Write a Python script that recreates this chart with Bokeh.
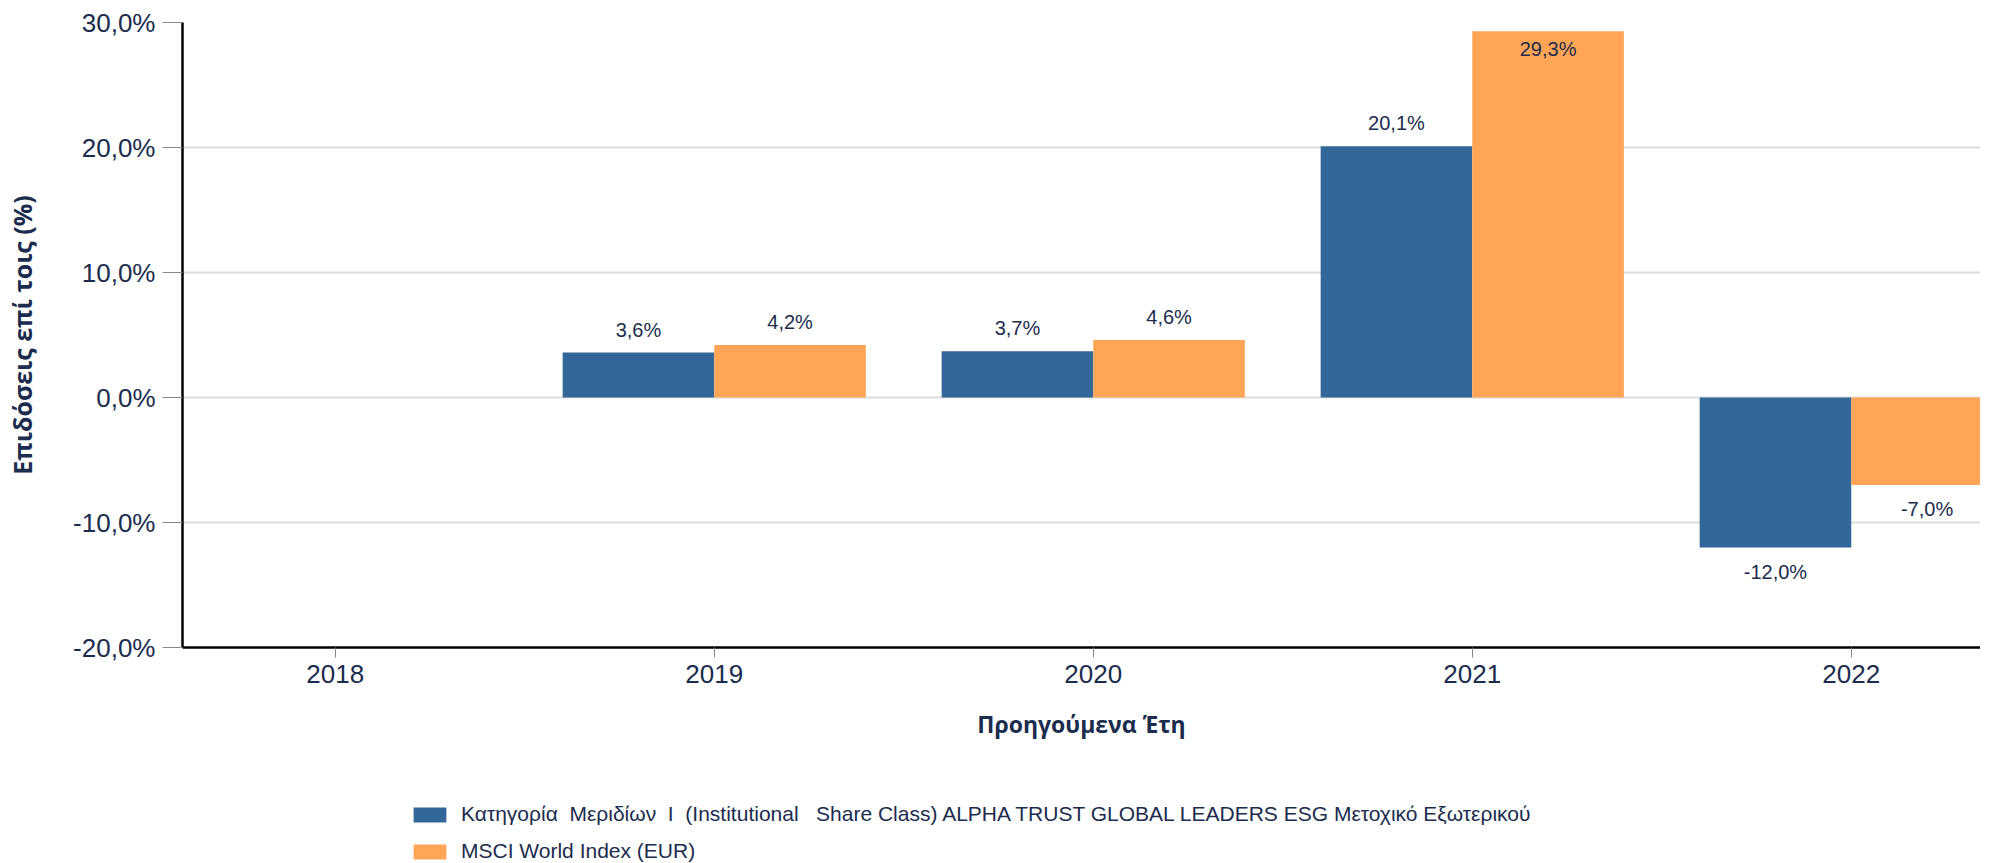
from bokeh.plotting import figure
from bokeh.layouts import column
from bokeh.models import FixedTicker, Legend, LegendItem, ColumnDataSource, Range1d
from bokeh.core.properties import value
from bokeh.embed import file_html
from bokeh.resources import INLINE

# ---- data ----
years = ["2018", "2019", "2020", "2021", "2022"]
fund_name = "Κατηγορία  Μεριδίων  I  (Institutional   Share Class) ALPHA TRUST GLOBAL LEADERS ESG Μετοχικό Εξωτερικού"
index_name = "MSCI World Index (EUR)"
fund_returns = [None, 3.6, 3.7, 20.1, -12.0]
index_returns = [None, 4.2, 4.6, 29.3, -7.0]
y_ticks = [-20, -10, 0, 10, 20, 30]
x_title = "Προηγούμενα Έτη"
y_title = "Επιδόσεις επί τοις (%)"

# ---- style ----
BLUE = "#336699"
ORANGE = "#FFA555"
TEXT = "#1b2c4e"
GRID = "#dcdcdc"
Y_MIN, Y_MAX = y_ticks[0], y_ticks[-1]
W = 1980


def fmt(v):
    return f"{v:.1f}".replace(".", ",") + "%"


def series_source(vals, shift):
    xs, tops, labels, offs = [], [], [], []
    for i, v in enumerate(vals):
        if v is None:
            continue
        xs.append(i + shift)
        tops.append(v)
        labels.append(fmt(v))
        if v < 0:
            offs.append(24)
        elif v > Y_MAX - 2.5:
            offs.append(18)
        else:
            offs.append(-23)
    return ColumnDataSource(dict(x=xs, top=tops, label=labels, off=offs))


p = figure(
    width=W, height=785,
    output_backend="svg", toolbar_location=None,
    x_range=Range1d(-0.403, 4.341), y_range=Range1d(Y_MIN, Y_MAX),
    min_border_left=182, min_border_right=0, min_border_top=22, min_border_bottom=138,
)
p.outline_line_color = None
p.background_fill_color = "white"

fund_src = series_source(fund_returns, -0.2)
index_src = series_source(index_returns, 0.2)

r1 = p.vbar(x="x", top="top", bottom=0, width=0.4, source=fund_src,
            fill_color=BLUE, line_color=None)
r2 = p.vbar(x="x", top="top", bottom=0, width=0.4, source=index_src,
            fill_color=ORANGE, line_color=None)

for src in (fund_src, index_src):
    p.text(x="x", y="top", text="label", source=src, y_offset="off",
           text_align="center", text_baseline="middle",
           text_font=value("Liberation Sans"), text_font_size="20px",
           text_color=TEXT)

# axes
p.xaxis.ticker = FixedTicker(ticks=list(range(len(years))))
p.xaxis.major_label_overrides = {i: y for i, y in enumerate(years)}
p.yaxis.ticker = FixedTicker(ticks=y_ticks)
p.yaxis.major_label_overrides = {t: fmt(t) for t in y_ticks}

for ax in (p.xaxis[0], p.yaxis[0]):
    ax.axis_line_color = "black"
    ax.axis_line_width = 2.5
    ax.major_tick_line_color = "#888888"
    ax.major_tick_line_width = 1
    ax.major_tick_in = 0
    ax.minor_tick_line_color = None
    ax.major_label_text_font = "Liberation Sans"
    ax.major_label_text_font_size = "26px"
    ax.major_label_text_color = TEXT
    ax.axis_label_text_font = "Open Sans"
    ax.axis_label_text_font_style = "bold"
    ax.axis_label_text_color = TEXT

p.xaxis.major_tick_out = 10
p.xaxis.major_label_standoff = 7
p.xaxis.axis_label = x_title
p.xaxis.axis_label_standoff = 22
p.xaxis.axis_label_text_font_size = "23px"

p.yaxis.major_tick_out = 20
p.yaxis.major_label_standoff = 7
p.yaxis.axis_label = y_title
p.yaxis.axis_label_standoff = 31
p.yaxis.axis_label_text_font_size = "25px"

p.xgrid.grid_line_color = None
p.ygrid.grid_line_color = GRID
p.ygrid.grid_line_width = 2

# legend strip below the chart (zero-area swatch renderers outside the visible range)
lg = figure(width=W, height=78, output_backend="svg", toolbar_location=None,
            x_range=Range1d(0, 1), y_range=Range1d(0, 1),
            x_axis_type=None, y_axis_type=None,
            min_border=0, outline_line_color=None,
            background_fill_color=None, border_fill_color=None)
lg.grid.visible = False
e1 = lg.vbar(x=[5], top=[5], bottom=5, width=0.1, fill_color=BLUE, line_color=None)
e2 = lg.vbar(x=[5], top=[5], bottom=5, width=0.1, fill_color=ORANGE, line_color=None)

legend = Legend(
    items=[LegendItem(label=fund_name, renderers=[e1]),
           LegendItem(label=index_name, renderers=[e2])],
    orientation="vertical", location=(227, 0),
    glyph_width=41, glyph_height=19, label_height=19,
    spacing=13, padding=0, margin=0, label_standoff=11,
    label_text_font="Liberation Sans", label_text_font_size="21px",
    label_text_color=TEXT,
    border_line_color=None, background_fill_alpha=0,
)
lg.add_layout(legend)

open("out.html", "w").write(file_html(column(p, lg, spacing=0), INLINE))
